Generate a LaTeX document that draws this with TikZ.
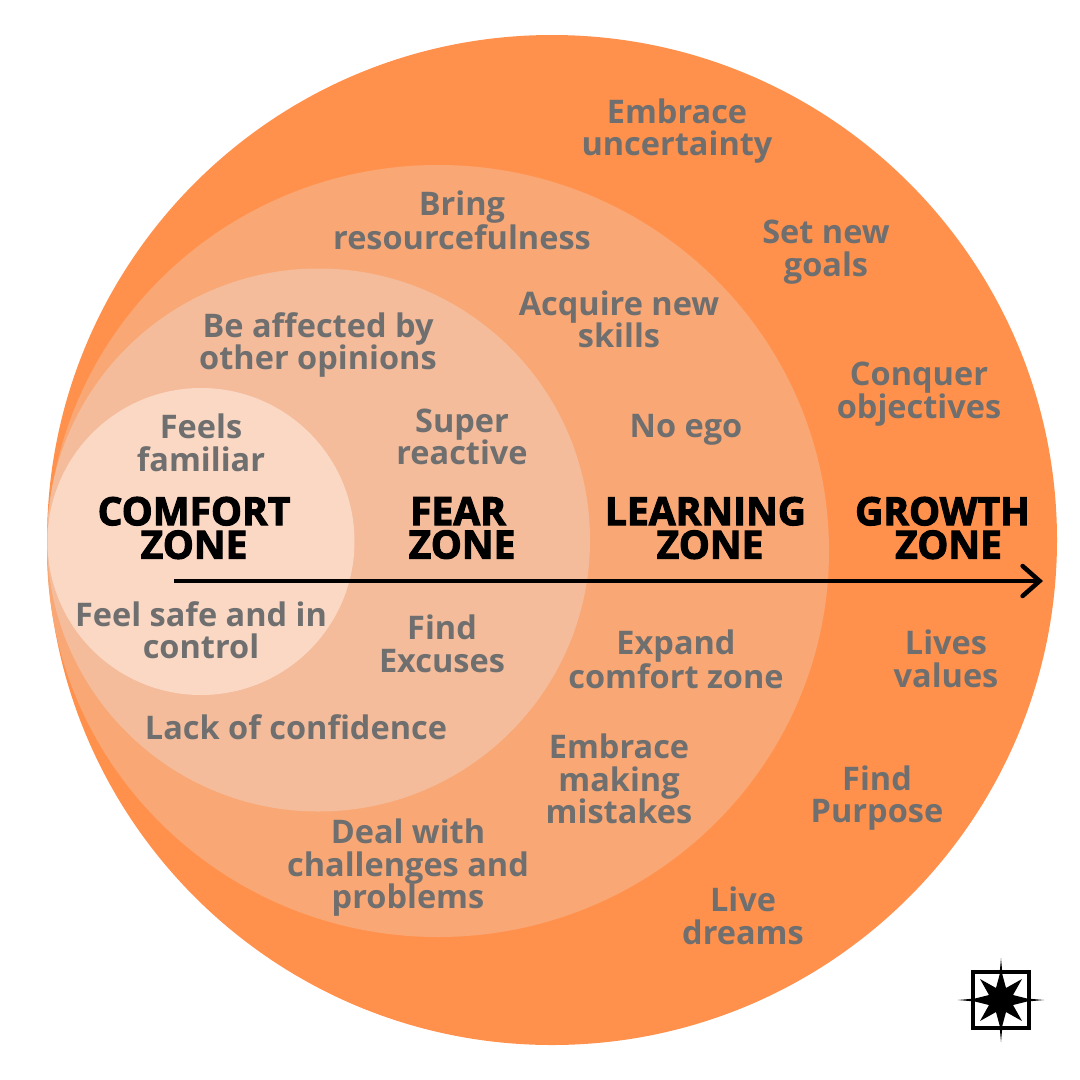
\documentclass[tikz,border=0pt]{standalone}
\usepackage{fontspec}
\setmainfont{Open Sans}
\newfontfamily\hdfont[UprightFeatures={FakeBold=2.6},BoldFeatures={FakeBold=2.6}]{Open Sans}
\usetikzlibrary{arrows.meta}
\definecolor{growthc}{HTML}{FF914D}
\definecolor{learnc}{HTML}{F9A875}
\definecolor{fearc}{HTML}{F4BC9B}
\definecolor{comfortc}{HTML}{FBD8C4}
\definecolor{txtc}{HTML}{6F6F6F}
\tikzset{
 lab/.style={text=txtc,font=\fontsize{32.5}{32.5}\selectfont\bfseries,align=center,inner sep=0pt},
 zone/.style={text=black,font=\fontsize{39}{33.5}\selectfont\hdfont\bfseries,align=center,inner sep=0pt},
 axisline/.style={line width=4.5pt,-{Straight Barb[length=17pt,width=30pt,line cap=round]}}
}
\begin{document}
\begin{tikzpicture}[x=1pt,y=-1pt]
\useasboundingbox (0,0) rectangle (1080,1080);
\fill[white] (0,0) rectangle (1080,1080);
\fill[growthc] (552,540) circle [radius=505];
\fill[learnc] (438,551) ellipse [x radius=391,y radius=386];
\fill[fearc] (318.5,540) circle [radius=271.5];
\fill[comfortc] (201,541.5) circle [radius=153.5];

\node[lab] (t1) at (677,131) {Embrace\\uncertainty};
\node[lab] (t2) at (826,252) {Set new\\goals};
\node[lab] (t3) at (919,394) {Conquer\\objectives};
\node[lab] (t4) at (462,220) {Bring\\resourcefulness};
\node[lab] (t5) at (619,319.5) {Acquire new\\skills};
\node[lab] (t6) at (686,430) {No ego};
\node[lab] (t7) at (318,345) {Be affected by\\other opinions};
\node[lab] (t8) at (462,437) {Super\\reactive};
\node[lab] (t9) at (201,443) {Feels\\familiar};
\node[lab] (t10) at (201,630) {Feel safe and in\\control};
\node[lab] (t11) at (442,644) {Find\\Excuses};
\node[lab] (t12) at (676,659) {Expand\\comfort zone};
\node[lab] (t13) at (946,659) {Lives\\values};
\node[lab] (t14) at (296,727) {Lack of confidence};
\node[lab] (t15) at (619,779) {Embrace\\making\\mistakes};
\node[lab] (t16) at (877,798) {Find\\Purpose};
\node[lab] (t17) at (408,868) {Deal with\\challenges and\\problems};
\node[lab] (t18) at (743,916) {Live\\dreams};

\node[zone] (z1) at (194,528) {COMFORT\\ZONE};
\node[zone] (z2) at (462,528) {\hspace*{-8pt}FEAR\\ZONE};
\node[zone] (z3) at (705.5,528) {LEARNING\\\hspace*{9pt}ZONE};
\node[zone] (z4) at (942.5,528) {GROWTH\\\hspace*{12pt}ZONE};

\coordinate (axs) at (174,581);
\coordinate (axe) at (1043,581);
\draw[axisline] (axs) -- (axe);

\draw[black,line width=4pt] (973,972) rectangle (1029,1028);
\fill[black] (1001,958) -- (1002.5,975) -- (1006,988) -- (1022,979) -- (1013,995) -- (1027,998.5) -- (1044,1000) -- (1027,1001.5) -- (1013,1005) -- (1022,1021) -- (1006,1012) -- (1002.5,1025) -- (1001,1042) -- (999.5,1025) -- (996,1012) -- (980,1021) -- (989,1005) -- (975,1001.5) -- (958,1000) -- (975,998.5) -- (989,995) -- (980,979) -- (996,988) -- (999.5,975) -- cycle;
\end{tikzpicture}
\end{document}
